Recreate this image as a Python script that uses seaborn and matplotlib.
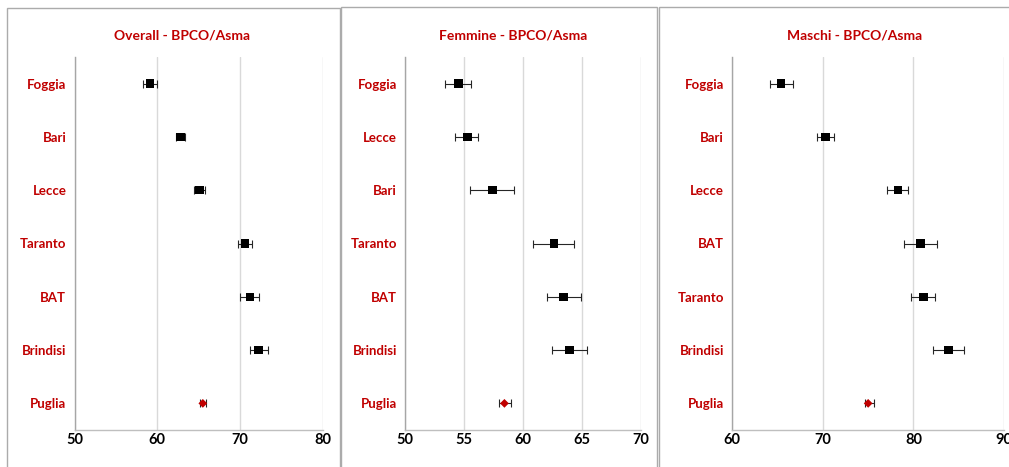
import numpy as np
import pandas as pd
import matplotlib
matplotlib.use("Agg")
import matplotlib.pyplot as plt
from matplotlib.patches import Rectangle
import seaborn as sns

# --- data: point estimate with lower / upper interval per area ---
overall_cats = ["Foggia", "Bari", "Lecce", "Taranto", "BAT", "Brindisi", "Puglia"]
overall_val = [59.1, 62.8, 65.1, 70.6, 71.2, 72.2, 65.5]
overall_lo = [58.3, 62.3, 64.4, 69.8, 70.0, 71.2, 65.2]
overall_hi = [59.9, 63.4, 65.8, 71.5, 72.3, 73.4, 65.9]

femmine_cats = ["Foggia", "Lecce", "Bari", "Taranto", "BAT", "Brindisi", "Puglia"]
femmine_val = [54.5, 55.25, 57.4, 62.6, 63.4, 63.9, 58.4]
femmine_lo = [53.4, 54.2, 55.5, 60.8, 62.0, 62.4, 57.9]
femmine_hi = [55.6, 56.2, 59.2, 64.3, 64.9, 65.4, 59.0]

maschi_cats = ["Foggia", "Bari", "Lecce", "BAT", "Taranto", "Brindisi", "Puglia"]
maschi_val = [65.4, 70.3, 78.3, 80.8, 81.1, 83.9, 75.0]
maschi_lo = [64.2, 69.4, 77.1, 79.0, 79.7, 82.2, 74.6]
maschi_hi = [66.7, 71.2, 79.4, 82.6, 82.4, 85.6, 75.6]

titles = ["Overall - BPCO/Asma", "Femmine - BPCO/Asma", "Maschi - BPCO/Asma"]
x_ticks = [[50, 60, 70, 80], [50, 55, 60, 65, 70], [60, 70, 80, 90]]

RED = "#C00000"
W, H = 1009, 467

sns.set_theme(style="white")
plt.rcParams["font.family"] = ["Lato", "DejaVu Sans"]

fig = plt.figure(figsize=(W / 100, H / 100), dpi=100)

# panel frames (pixels: left, right, top)
frames = [(7, 339.5, 8), (341, 657, 7), (659, 1012, 7)]
for l, r, t in frames:
    fig.patches.append(Rectangle((l / W, -0.05), (r - l) / W, 1.05 - t / H,
                                 transform=fig.transFigure, fill=False,
                                 edgecolor="#ABABAB", lw=1.0, zorder=0))

# plot areas (pixels: left, right) and title centres
areas = [(74.7, 322.7), (405.3, 641.3), (732.3, 1004.0)]
title_x = [182, 513, 855]
top_px, bottom_px = 57, 430

panels = [
    (overall_cats, overall_val, overall_lo, overall_hi),
    (femmine_cats, femmine_val, femmine_lo, femmine_hi),
    (maschi_cats, maschi_val, maschi_lo, maschi_hi),
]

for i, (cats, val, lo, hi) in enumerate(panels):
    l, r = areas[i]
    ax = fig.add_axes([l / W, 1 - bottom_px / H, (r - l) / W, (bottom_px - top_px) / H])
    df = pd.DataFrame({"area": cats, "val": val, "lo": lo, "hi": hi})
    df["pos"] = np.arange(len(df))
    df["kind"] = np.where(df["area"] == "Puglia", "reg", "prov")

    ax.errorbar(df["val"], df["pos"],
                xerr=[df["val"] - df["lo"], df["hi"] - df["val"]],
                fmt="none", ecolor="#262626", elinewidth=0.8,
                capsize=3, capthick=0.8, zorder=2)
    sns.scatterplot(data=df, x="val", y="pos", hue="kind", style="kind",
                    hue_order=["prov", "reg"], style_order=["prov", "reg"],
                    palette={"prov": "black", "reg": RED},
                    markers={"prov": "s", "reg": "D"},
                    size="kind", sizes={"prov": 38, "reg": 20},
                    edgecolor="none", legend=False, ax=ax, zorder=3)

    ticks = x_ticks[i]
    ax.set_xlim(ticks[0], ticks[-1])
    ax.set_ylim(len(df) - 0.5, -0.5)
    ax.set_xticks(ticks)
    ax.set_xticklabels([str(t) for t in ticks], fontsize=10.5,
                       fontweight="bold", color="black")
    ax.set_yticks(df["pos"])
    ax.set_yticklabels(cats, fontsize=9.5, fontweight="bold", color=RED)
    ax.tick_params(axis="both", length=0)
    ax.tick_params(axis="y", pad=6)
    ax.tick_params(axis="x", pad=2)
    ax.set_xlabel("")
    ax.set_ylabel("")
    ax.grid(axis="x", color="#D9D9D9", lw=1.0)
    ax.grid(axis="y", visible=False)
    ax.set_axisbelow(True)
    for s in ["top", "right"]:
        ax.spines[s].set_visible(False)
    ax.spines["left"].set_color("#A6A6A6")
    ax.spines["bottom"].set_color("#BFBFBF")
    ax.spines["left"].set_linewidth(1.0)
    ax.spines["bottom"].set_linewidth(1.0)
    ax.set_facecolor("none")

    fig.text(title_x[i] / W, 1 - 36 / H, titles[i], ha="center", va="center",
             fontsize=10, fontweight="bold", color=RED)

fig.savefig("out.png", dpi=100, facecolor="white")
